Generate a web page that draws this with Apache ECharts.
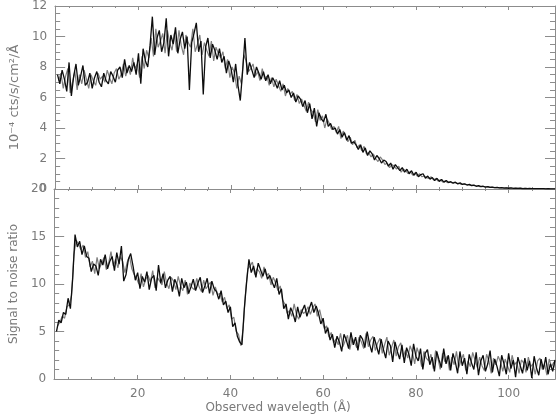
<!DOCTYPE html>
<html>
<head>
<meta charset="utf-8">
<script src="https://cdn.jsdelivr.net/npm/echarts@6/dist/echarts.min.js"></script>
<style>
  html, body { margin: 0; padding: 0; background: #fff; }
  #chart { width: 556px; height: 416px; }
</style>
</head>
<body>
<div id="chart"></div>
<script>
// sampling of the spectra (Å): black trace on the 0.5 Å grid, grey trace shifted by a quarter step
const WAVE_START = 2.5
const WAVE_STEP = 0.5
const GREY_SHIFT = 0.25

// top panel: flux in 10^-4 cts/s/cm2/Å
const fluxBlack = [
  7.5, 6.9, 7.8, 7.2, 6.4, 8.3, 6.1, 7.4, 8.2, 6.8,
  7.4, 8.1, 6.8, 7.0, 7.6, 6.6, 7.3, 7.7, 7.0, 6.7,
  7.6, 7.1, 6.9, 7.7, 7.4, 7.0, 7.8, 8.0, 7.3, 8.5,
  7.6, 8.1, 7.7, 8.3, 7.5, 8.9, 6.9, 9.2, 8.4, 8.0,
  9.4, 11.3, 8.8, 9.9, 10.4, 9.0, 9.6, 11.2, 8.7, 10.1,
  9.5, 10.6, 8.9, 9.8, 10.3, 9.2, 10.0, 6.5, 9.6, 10.2,
  10.9, 9.0, 9.7, 6.2, 9.3, 9.9, 8.6, 9.5, 9.1, 8.5,
  9.2, 8.3, 8.7, 7.6, 8.4, 7.9, 7.0, 8.2, 6.8, 5.8,
  7.7, 9.9, 7.5, 8.3, 7.8, 7.3, 8.0, 7.6, 7.2, 7.7,
  7.1, 7.5, 6.9, 7.3, 7.0, 6.6, 7.1, 6.5, 6.8, 6.3,
  6.5, 6.0, 6.3, 5.7, 6.1, 5.9, 5.4, 5.8, 5.0, 5.6,
  4.6, 5.3, 4.1, 5.0, 4.6, 4.4, 4.9, 4.1, 4.3, 3.9,
  4.0, 3.6, 3.9, 3.4, 3.7, 3.2, 3.5, 3.0, 3.1, 2.9,
  2.6, 2.9, 2.4, 2.7, 2.2, 2.5, 2.3, 1.9, 2.2, 2.0,
  1.7, 1.9, 1.8, 1.5, 1.7, 1.3, 1.6, 1.4, 1.2, 1.4,
  1.1, 1.3, 1.0, 1.2, 0.9, 1.1, 0.8, 0.95, 1.0, 0.7,
  0.85, 0.65, 0.75, 0.55, 0.7, 0.5, 0.62, 0.45, 0.55, 0.42,
  0.48, 0.38, 0.45, 0.33, 0.4, 0.3, 0.34, 0.26, 0.3, 0.22,
  0.26, 0.18, 0.22, 0.15, 0.18, 0.12, 0.15, 0.1, 0.12, 0.09,
  0.11, 0.07, 0.09, 0.06, 0.08, 0.05, 0.07, 0.04, 0.06, 0.04,
  0.05, 0.03, 0.04, 0.03, 0.04, 0.02, 0.03, 0.02, 0.03, 0.02,
  0.02, 0.01, 0.02, 0.01, 0.01, 0.01
]

const fluxGrey = [
  7.1, 7.6, 6.6, 7.4, 7.9, 6.3, 7.0, 7.7, 6.5, 7.5,
  6.9, 7.8, 7.2, 6.6, 7.5, 7.1, 6.8, 7.6, 7.2, 7.4,
  7.0, 7.8, 7.3, 6.9, 7.6, 7.9, 7.2, 7.5, 8.2, 7.4,
  8.0, 7.5, 8.6, 7.9, 8.2, 7.3, 8.7, 7.9, 9.1, 8.6,
  9.9, 8.7, 10.5, 9.3, 9.7, 10.2, 8.9, 10.4, 9.6, 9.1,
  10.2, 9.0, 10.4, 9.4, 8.8, 10.1, 9.6, 9.3, 10.5, 9.0,
  9.5, 10.1, 8.8, 9.6, 9.1, 8.7, 9.7, 8.4, 9.3, 8.9,
  8.6, 9.0, 7.9, 8.5, 7.3, 8.0, 7.6, 6.6, 7.4, 6.9,
  8.8, 8.4, 7.7, 7.9, 8.2, 7.4, 7.7, 7.1, 7.9, 7.2,
  7.4, 6.8, 7.3, 6.7, 7.2, 6.8, 6.4, 6.9, 6.1, 6.6,
  6.2, 6.4, 5.8, 6.2, 5.6, 5.9, 5.5, 5.1, 5.7, 5.2,
  5.0, 4.4, 5.2, 4.5, 4.8, 4.0, 4.6, 4.3, 3.9, 4.1,
  3.7, 4.1, 3.3, 3.8, 3.5, 3.1, 3.4, 2.9, 3.2, 2.7,
  2.9, 2.5, 2.8, 2.3, 2.4, 2.1, 2.3, 2.0, 1.8, 2.1,
  1.9, 1.6, 1.7, 1.4, 1.6, 1.5, 1.3, 1.5, 1.1, 1.3,
  1.2, 1.0, 1.15, 0.9, 1.05, 0.85, 1.0, 0.8, 0.85, 0.75,
  0.7, 0.8, 0.6, 0.68, 0.52, 0.6, 0.45, 0.53, 0.42, 0.47,
  0.4, 0.44, 0.36, 0.38, 0.3, 0.34, 0.28, 0.29, 0.23, 0.25,
  0.2, 0.21, 0.16, 0.18, 0.13, 0.15, 0.11, 0.12, 0.09, 0.1,
  0.08, 0.09, 0.07, 0.07, 0.06, 0.06, 0.05, 0.05, 0.04, 0.05,
  0.04, 0.03, 0.04, 0.03, 0.03, 0.02, 0.03, 0.02, 0.02, 0.02,
  0.02, 0.01, 0.02, 0.01, 0.01, 0.01
]

// bottom panel: signal to noise ratio, same sampling
const snrBlack = [
  5.0, 6.2, 5.9, 7.0, 6.8, 8.5, 7.4, 10.6, 15.2, 13.9,
  14.5, 13.1, 14.0, 12.9, 12.7, 11.3, 12.1, 11.9, 10.9, 12.6,
  12.0, 13.1, 11.6, 12.4, 12.9, 11.4, 13.3, 12.1, 14.0, 10.3,
  11.0, 12.6, 13.2, 11.9, 10.4, 11.2, 9.5, 10.8, 10.2, 11.3,
  9.4, 10.6, 10.9, 9.3, 12.0, 10.1, 11.1, 9.6, 10.4, 10.8,
  9.2, 10.5, 9.9, 8.7, 10.6, 9.6, 10.2, 9.0, 9.7, 10.5,
  9.3, 10.1, 10.7, 9.1, 9.8, 10.6, 9.0, 10.3, 9.5, 9.2,
  8.4, 9.3, 7.8, 8.2, 7.0, 7.6, 5.5, 5.9, 4.5, 3.9,
  3.6, 7.4, 10.2, 12.6, 11.2, 11.9, 10.7, 12.2, 11.5, 10.8,
  11.6, 10.5, 10.9, 10.2, 9.6, 10.6, 8.9, 9.5, 7.4, 7.9,
  6.3, 7.5, 6.9, 6.0, 7.6, 6.5, 7.2, 7.8, 6.6, 7.4,
  8.1, 7.0, 7.7, 6.9, 5.8, 6.4, 4.8, 5.4, 4.1, 4.7,
  3.3, 4.5, 3.9, 2.9, 4.7, 4.1, 3.2, 4.9, 3.6, 4.4,
  3.0, 4.6, 4.2, 3.3, 5.0, 3.7, 2.8, 4.4, 3.5, 2.6,
  4.2, 3.1, 2.2, 4.0, 3.5, 1.8, 3.9, 2.9, 2.1, 3.6,
  1.7, 3.3, 2.6, 1.4, 3.7, 2.4, 1.9, 3.2, 1.0, 2.7,
  3.1, 1.5, 2.3, 0.8, 2.9, 2.0, 1.2, 3.2, 1.6, 2.5,
  0.9, 2.7, 1.8, 0.6, 2.9, 1.4, 2.2, 0.5, 2.6, 1.7,
  1.0, 2.8, 0.4, 1.9, 2.5, 0.8, 1.6, 3.0, 0.7, 2.1,
  1.3, 0.3, 2.5, 1.6, 0.5, 2.7, 1.1, 2.0, 0.2, 2.3,
  1.4, 0.6, 2.2, 0.9, 1.9, 0.1, 2.4, 1.2, 0.4, 2.1,
  1.0, 2.3, 0.5, 1.6, 0.8, 2.0
]

const snrGrey = [
  5.6, 6.0, 6.6, 6.4, 7.6, 7.8, 8.8, 13.1, 14.6, 14.2,
  13.6, 14.1, 12.8, 13.4, 11.8, 12.4, 11.1, 12.8, 11.6, 12.2,
  12.8, 11.5, 12.2, 13.4, 11.9, 12.6, 11.7, 12.9, 12.4, 11.2,
  12.3, 12.9, 11.6, 11.0, 10.6, 10.0, 11.1, 9.7, 10.5, 10.9,
  10.2, 11.4, 9.6, 10.7, 10.3, 9.9, 11.3, 10.1, 9.5, 10.7,
  10.3, 9.4, 10.8, 9.8, 9.3, 10.4, 8.9, 10.1, 9.6, 9.4,
  10.6, 9.7, 9.2, 10.4, 9.5, 9.9, 10.2, 8.8, 9.7, 8.9,
  9.0, 8.1, 8.6, 7.4, 7.8, 6.3, 6.5, 5.0, 4.7, 3.5,
  5.3, 9.0, 11.6, 11.9, 12.3, 11.0, 11.6, 11.3, 10.6, 11.8,
  10.9, 11.1, 9.9, 10.7, 10.1, 9.3, 9.8, 8.3, 7.9, 6.9,
  7.2, 6.6, 7.9, 6.8, 6.3, 7.3, 6.9, 7.1, 7.6, 6.8,
  7.5, 7.9, 6.6, 7.3, 6.2, 5.3, 5.6, 4.4, 4.9, 3.8,
  4.2, 3.6, 4.8, 3.4, 4.0, 4.6, 3.1, 4.3, 3.9, 3.3,
  4.4, 3.9, 3.2, 4.8, 3.4, 4.1, 4.5, 3.0, 3.8, 4.3,
  2.7, 3.6, 4.4, 2.5, 3.3, 4.1, 2.4, 3.4, 3.8, 2.3,
  3.0, 2.2, 3.5, 2.8, 1.6, 3.3, 2.5, 1.3, 2.9, 2.2,
  1.9, 2.6, 1.1, 3.0, 2.2, 1.0, 2.7, 1.8, 2.4, 0.9,
  2.3, 1.5, 2.9, 1.2, 2.0, 2.6, 0.9, 1.9, 1.3, 2.8,
  2.0, 1.2, 2.3, 1.4, 0.9, 2.6, 1.9, 0.6, 2.2, 1.5,
  2.4, 1.8, 0.8, 2.1, 1.4, 0.7, 2.5, 1.5, 1.8, 0.6,
  2.0, 1.7, 0.7, 2.3, 1.3, 1.6, 0.5, 1.9, 2.2, 1.0,
  1.6, 0.4, 2.1, 1.3, 1.8, 0.9
]

const xMajorTicks = [20, 40, 60, 80, 100]
const xMinorTicks = [5, 10, 15, 20, 25, 30, 35, 40, 45, 50, 55, 60, 65, 70, 75, 80, 85, 90, 95, 100, 105]

const FONT = "DejaVu Sans"
const AXIS_GRAY = "#8c8c8c"
const TEXT_GRAY = "#7a7a7a"
const X_MIN = 2
const X_MAX = 110

const toPairs = (vals, shift) => vals.map((v, i) => [WAVE_START + shift + i * WAVE_STEP, v])

function makeXAxis(gridIndex, position, ticks, tickLen, labels) {
  return {
    type: "value",
    gridIndex,
    position,
    min: X_MIN,
    max: X_MAX,
    axisLine: { show: true, onZero: false, lineStyle: { color: AXIS_GRAY, width: 1 } },
    axisTick: { show: true, inside: true, length: tickLen, customValues: ticks, lineStyle: { color: AXIS_GRAY } },
    axisLabel: labels
      ? { show: true, customValues: labels, color: TEXT_GRAY, fontSize: 12, fontFamily: FONT, margin: 9 }
      : { show: false },
    splitLine: { show: false }
  }
}

function makeYAxis(gridIndex, position, max, interval, minorSplit, name, nameSize) {
  const left = position === "left"
  return {
    type: "value",
    gridIndex,
    position,
    min: 0,
    max,
    interval,
    name: left ? name : "",
    nameLocation: "middle",
    nameGap: 27,
    nameTextStyle: { color: TEXT_GRAY, fontSize: nameSize || 12, fontFamily: FONT },
    axisLine: { show: true, onZero: false, lineStyle: { color: AXIS_GRAY, width: 1 } },
    axisTick: { show: true, inside: true, length: 10, lineStyle: { color: AXIS_GRAY } },
    minorTick: { show: true, splitNumber: minorSplit, length: 5, lineStyle: { color: AXIS_GRAY } },
    axisLabel: left
      ? { show: true, color: TEXT_GRAY, fontSize: 12, fontFamily: FONT, margin: 8 }
      : { show: false },
    splitLine: { show: false },
    minorSplitLine: { show: false }
  }
}

function spectrum(xAxisIndex, yAxisIndex, vals, shift, color, width) {
  return {
    type: "line",
    xAxisIndex,
    yAxisIndex,
    data: toPairs(vals, shift),
    symbol: "none",
    lineStyle: { color, width }
  }
}

const option = {
  backgroundColor: "#ffffff",
  animation: false,
  grid: [
    { left: 42, right: 1, top: 1, height: 188 },
    { left: 42, right: 1, top: 189, height: 190 }
  ],
  xAxis: [
    // top panel
    makeXAxis(0, "bottom", xMajorTicks, 4, null),
    makeXAxis(0, "bottom", xMinorTicks, 2, null),
    makeXAxis(0, "top", xMajorTicks, 4, null),
    makeXAxis(0, "top", xMinorTicks, 2, null),
    // bottom panel
    makeXAxis(1, "bottom", xMajorTicks, 4, xMajorTicks),
    makeXAxis(1, "bottom", xMinorTicks, 2, null),
    makeXAxis(1, "top", xMajorTicks, 4, null),
    makeXAxis(1, "top", xMinorTicks, 2, null)
  ],
  yAxis: [
    makeYAxis(0, "left", 12, 2, 4, "10⁻⁴ cts/s/cm²/Å", 13),
    makeYAxis(0, "right", 12, 2, 4, ""),
    makeYAxis(1, "left", 20, 5, 5, "Signal to noise ratio", 12),
    makeYAxis(1, "right", 20, 5, 5, "")
  ],
  graphic: [
    {
      type: "text",
      left: "center",
      top: 402,
      style: { text: "Observed wavelegth (Å)", fill: TEXT_GRAY, font: "12px " + FONT }
    }
  ],
  series: [
    spectrum(0, 0, fluxGrey, GREY_SHIFT, "#7f7f7f", 1.2),
    spectrum(0, 0, fluxBlack, 0, "#0d0d0d", 1.3),
    spectrum(4, 2, snrGrey, GREY_SHIFT, "#7f7f7f", 1.2),
    spectrum(4, 2, snrBlack, 0, "#0d0d0d", 1.3)
  ]
}

const chart = echarts.init(document.getElementById("chart"), null, { renderer: "canvas" })
chart.setOption(option)
</script>
</body>
</html>
